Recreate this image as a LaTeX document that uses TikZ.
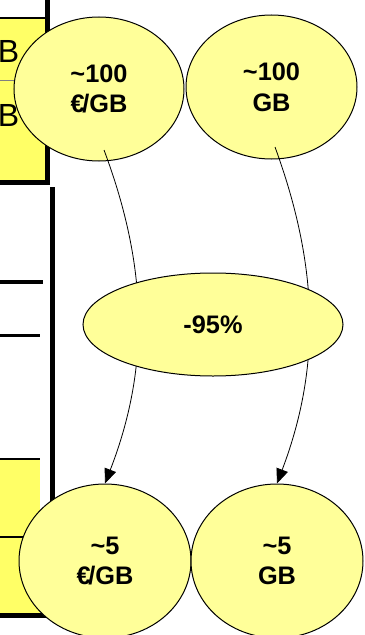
\documentclass[tikz,border=0pt]{standalone}
\usepackage{fontspec}
\setmainfont{Liberation Sans}
\usetikzlibrary{arrows.meta, shapes.geometric}
\definecolor{paleyellow}{HTML}{FFFF99}
\definecolor{cellyellow}{HTML}{FFFF66}
\tikzset{
  bubble/.style={ellipse,draw,fill=paleyellow,line width=0.75pt,inner sep=0pt,align=center,font=\fontsize{19}{23}\selectfont\bfseries},
  cell/.style={fill=cellyellow},
  rule/.style={line width=3.75pt},
  letter/.style={anchor=base east,inner sep=0pt,font=\fontsize{24}{28}\selectfont},
  link/.style={-{Triangle[length=11pt,width=9pt]},line width=0.6pt}
}

\begin{document}
\begin{tikzpicture}[x=0.75pt,y=-0.75pt]
\useasboundingbox (0,0) rectangle (364,635);
\clip (0,0) rectangle (364,635);
% table pieces at the left edge
\fill[cell] (0,18) rectangle (45,183);
\fill[cell] (0,458) rectangle (40,615);
\draw[line width=1.5pt] (0,18) -- (45,18);
\draw[gray,line width=0.75pt] (0,81) -- (45,81);
\draw[rule] (47.5,0) -- (47.5,185);
\draw[rule] (0,182.5) -- (50,182.5);
\draw[rule] (52.5,187) -- (52.5,617);
\draw[line width=3.5pt] (0,282) -- (43,282);
\draw[line width=2pt] (0,335.5) -- (40,335.5);
\draw[line width=1.5pt] (0,458.5) -- (40,458.5);
\draw[line width=1.5pt] (0,537) -- (40,537);
\draw[rule] (0,615) -- (55,615);
\node[letter] (b1) at (19.5,63) {B};
\node[letter] (b2) at (19.5,127) {B};
% before and after
\node[bubble,minimum width=127.5pt,minimum height=108pt] (cost) at (99,89) {\textasciitilde100\\€\kern-.1em/GB};
\node[bubble,minimum width=128.25pt,minimum height=108pt] (size) at (271.5,87) {\textasciitilde100\\GB};
\node[bubble,minimum width=129pt,minimum height=115.5pt] (newcost) at (105,561) {\textasciitilde5\\€\kern-.1em/GB};
\node[bubble,minimum width=129pt,minimum height=115.5pt] (newsize) at (277,561) {\textasciitilde5\\GB};
\coordinate (c1) at (104,150);
\coordinate (s1) at (275,147);
\draw[link] (c1) .. controls (149,270) and (149,370) .. (newcost.north);
\draw[link] (s1) .. controls (320,270) and (320,370) .. (newsize.north);
\node[bubble,minimum width=195pt,minimum height=77.25pt] (drop) at (213,324.5) {-95\%};
\end{tikzpicture}
\end{document}
